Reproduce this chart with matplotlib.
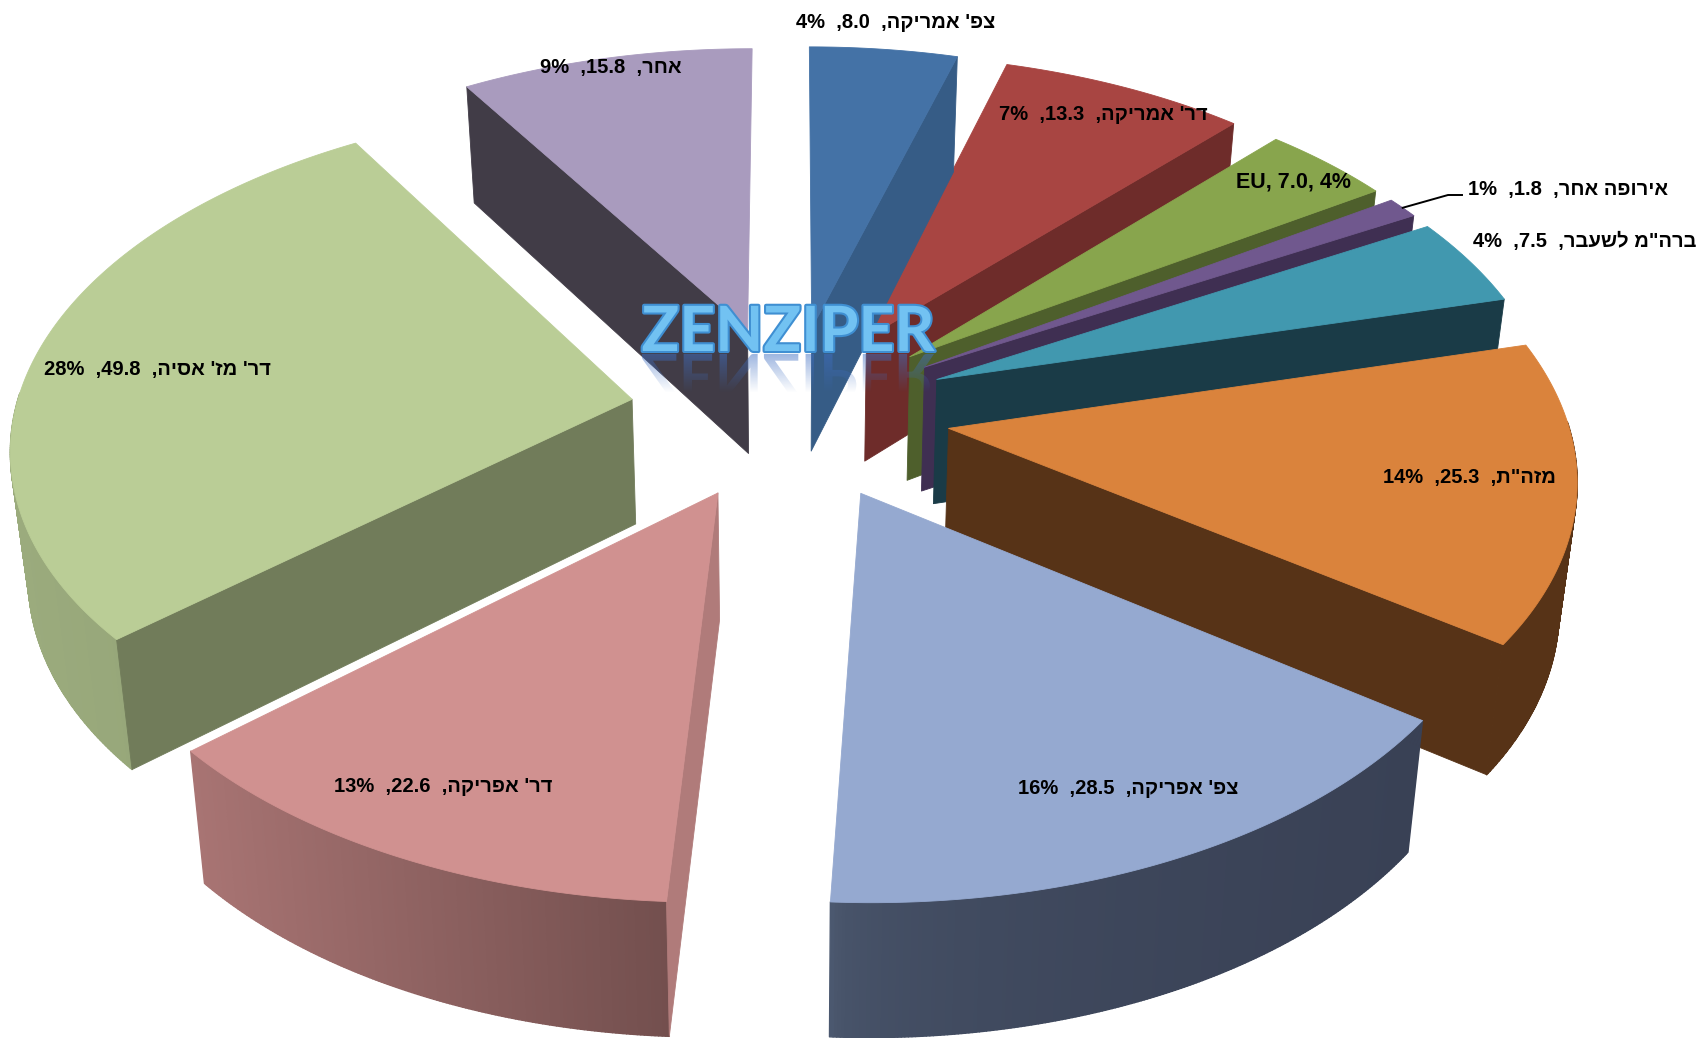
import numpy as np
import matplotlib
matplotlib.use("Agg")
import matplotlib.pyplot as plt
from matplotlib.colors import to_rgb
from matplotlib.patches import PathPatch
from matplotlib.textpath import TextPath
from matplotlib.font_manager import FontProperties
from matplotlib.transforms import Affine2D
import matplotlib.patheffects as pe

# ---- data -------------------------------------------------------------
regions = ["צפ' אמריקה", "דר' אמריקה", "EU", "אירופה אחר", 'ברה"מ לשעבר',
           'מזה"ת', "צפ' אפריקה", "דר' אפריקה", "דר' מז' אסיה", "אחר"]
values = [8.0, 13.3, 7.0, 1.8, 7.5, 25.3, 28.5, 22.6, 49.8, 15.8]
percents = ["4%", "7%", "4%", "1%", "4%", "14%", "16%", "13%", "28%", "9%"]

# ---- style -------------------------------------------------------------
top_colors = ["#4472A6", "#A84542", "#88A54D", "#70588E", "#4198AF",
              "#DA833C", "#95A9D0", "#D09190", "#BACD96", "#A99BBE"]
wall_colors = ["#365C86", "#6E2C2A", "#4E5F2C", "#3F2F52", "#1A3B47",
               "#573317", "#3A4256", "#B07B7A", "#717C5A", "#413C47"]
outer_left = ["#365C86", "#6E2C2A", "#4E5F2C", "#3F2F52", "#1A3B47",
              "#573317", "#4F5D74", "#A87473", "#9BAB7D", "#413C47"]
outer_right = ["#365C86", "#6E2C2A", "#4E5F2C", "#3F2F52", "#1A3B47",
               "#573317", "#394155", "#734F4E", "#8F9F74", "#413C47"]
shade_gamma = [1, 1, 1, 1, 1, 1, 0.3, 1, 1, 1]
paint_order = [1, 0, 2, 3, 4, 5, 9, 8, 7, 6]
label_pos = [(896, 23), (1103, 115), (1293, 182), (1568, 189), (1585, 241),
             (1469, 477), (1128, 788), (443, 787), (157, 369), (611, 68)]

CX, CY = 790, 412      # pie centre in pixels
RX, RY = 617, 336      # projected radii
PERSP = 0.125          # perspective strength
DEPTH0 = 125           # pie thickness at the centre, in pixels
DEPTH_SLOPE = 8        # thickness grows toward the viewer
TAPER = 0.023          # verticals converge downward
EXPLODE = 0.26

fig = plt.figure(figsize=(17.01, 10.38), dpi=100, facecolor="white")
ax = fig.add_axes([0, 0, 1, 1])
ax.set_xlim(0, 1701)
ax.set_ylim(1038, 0)
ax.axis("off")


def project(x, z, down=False):
    """Ground-plane point -> picture; down=True gives the underside."""
    x, z = np.asarray(x, float), np.asarray(z, float)
    w = 1 + PERSP * z
    sx = RX * x / w
    sy = CY - RY * z / w
    if down:
        return np.column_stack([CX + sx * (1 - TAPER), sy + DEPTH0 - DEPTH_SLOPE * z])
    return np.column_stack([CX + sx, sy])


def visual(text):
    """matplotlib has no bidi layout: put Hebrew runs in visual order."""
    return text[::-1] if any("\u0590" <= c <= "\u05FF" for c in text) else text


def side(a, b, p):
    return np.sign((b[0] - a[0]) * (p[1] - a[1]) - (b[1] - a[1]) * (p[0] - a[0]))


total = sum(values)
edges = np.cumsum([0] + values) / total * 2 * np.pi
mids = (edges[:-1] + edges[1:]) / 2
poly = dict(linewidth=0.6, joinstyle="round")

for i in paint_order:
    t1, t2, m = edges[i], edges[i + 1], mids[i]
    ox, oz = EXPLODE * np.sin(m), EXPLODE * np.cos(m)
    th = np.linspace(t1, t2, max(8, int((t2 - t1) * 200)))
    ax_, az_ = ox + np.sin(th), oz + np.cos(th)
    arc_t, arc_b = project(ax_, az_), project(ax_, az_, True)
    apex_t, apex_b = project(ox, oz), project(ox, oz, True)

    # rounded outer wall, shaded from one end to the other
    xs = arc_t[:, 0]
    span = max(xs.max() - xs.min(), 1)
    cl, cr = np.array(to_rgb(outer_left[i])), np.array(to_rgb(outer_right[i]))
    for j in range(len(th) - 1):
        if np.cos((th[j] + th[j + 1]) / 2) > 0.02:   # faces away from the viewer
            continue
        f = (((xs[j] + xs[j + 1]) / 2 - xs.min()) / span) ** shade_gamma[i]
        col = cl + (cr - cl) * f
        ax.fill([arc_t[j, 0], arc_t[j + 1, 0], arc_b[j + 1, 0], arc_b[j, 0]],
                [arc_t[j, 1], arc_t[j + 1, 1], arc_b[j + 1, 1], arc_b[j, 1]],
                facecolor=col, edgecolor=col, linewidth=1.0, joinstyle="round")

    # flat radial walls that face the viewer
    mid_pt = arc_t[len(th) // 2]
    for k, ang in ((0, t1), (-1, t2)):
        if abs(np.sin(ang)) < 0.02:
            continue
        if side(apex_t[0], arc_t[k], apex_b[0]) != side(apex_t[0], arc_t[k], mid_pt):
            ax.fill([apex_t[0, 0], arc_t[k, 0], arc_b[k, 0], apex_b[0, 0]],
                    [apex_t[0, 1], arc_t[k, 1], arc_b[k, 1], apex_b[0, 1]],
                    facecolor=wall_colors[i], edgecolor=wall_colors[i], **poly)

    # top face
    ax.fill(np.r_[apex_t[0, 0], arc_t[:, 0]], np.r_[apex_t[0, 1], arc_t[:, 1]],
            facecolor=top_colors[i], edgecolor=top_colors[i], **poly)

# labels
font = ["Liberation Sans", "DejaVu Sans"]
for i, (name, val, pct) in enumerate(zip(regions, values, percents)):
    if name == "EU":
        shown = f"{name}, {val:.1f}, {pct}"
        size = 15.5
    else:
        shown = f"{pct}  ,{val:.1f}  ,{visual(name)}"
        size = 14.5
    ax.text(*label_pos[i], shown, ha="center", va="center", fontsize=size,
            family=font, weight="bold", color="black", zorder=20)

# leader line of the small slice
k = regions.index("אירופה אחר")
lm = mids[k]
tip = project(EXPLODE * np.sin(lm) + np.sin(lm), EXPLODE * np.cos(lm) + np.cos(lm))[0]
lead_end = (1462, 195)
ax.plot([tip[0], lead_end[0] - 14, lead_end[0]], [tip[1], lead_end[1], lead_end[1]],
        color="black", lw=1.4, zorder=19)

# ZENZIPER watermark with its reflection
wm_size = 45
wm_x, wm_y = 788, 351
ax.text(wm_x, wm_y, "ZENZIPER", ha="center", va="baseline",
        fontproperties=FontProperties(family="Lato", weight="bold", size=wm_size),
        color="#72C2F2", zorder=22,
        path_effects=[pe.withStroke(linewidth=3, foreground="#3F8FD2")])
tp = TextPath((0, 0), "ZENZIPER",
              prop=FontProperties(family="Lato", weight="bold", size=wm_size * 100 / 72))
bb = tp.get_extents()
tr = Affine2D().translate(wm_x - bb.width / 2 - bb.x0, wm_y + 3) + ax.transData
refl = PathPatch(tp, transform=tr, facecolor="none", edgecolor="none", zorder=21)
ax.add_patch(refl)
grad = np.zeros((40, 2, 4))
grad[..., :3] = to_rgb("#3F6FC2")
grad[..., 3] = np.linspace(0.5, 0, 40)[:, None]
im = ax.imshow(grad, extent=(wm_x - 170, wm_x + 170, wm_y + 42, wm_y + 3),
               aspect="auto", zorder=21, interpolation="bilinear")
im.set_clip_path(refl)
ax.set_xlim(0, 1701)
ax.set_ylim(1038, 0)

fig.savefig("out.png", dpi=100, facecolor="white")
